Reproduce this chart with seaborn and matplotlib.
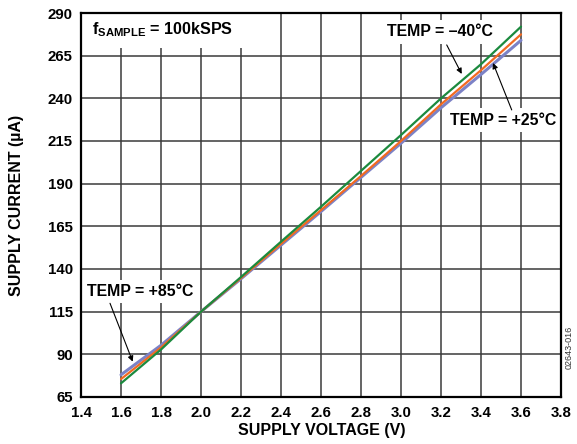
import numpy as np
import pandas as pd
import seaborn as sns
import matplotlib.pyplot as plt

voltage = [1.6, 1.8, 2.0, 2.2, 2.4, 2.6, 2.8, 3.0, 3.2, 3.4, 3.6]
current_m40 = [73.0, 92.8, 115.0, 135.3, 156.0, 176.5, 197.5, 218.5, 240.0, 260.0, 282.0]
current_p25 = [75.5, 94.0, 115.0, 134.7, 154.7, 174.5, 194.5, 215.0, 236.5, 256.5, 277.5]
current_p85 = [78.0, 95.3, 115.0, 134.3, 154.0, 173.7, 193.7, 213.7, 234.5, 254.0, 274.0]

series = {"TEMP = -40°C": current_m40, "TEMP = +25°C": current_p25, "TEMP = +85°C": current_p85}
colors = {"TEMP = -40°C": "#1b8a3e", "TEMP = +25°C": "#f26a21", "TEMP = +85°C": "#7c82c6"}
widths = {"TEMP = -40°C": 1.6, "TEMP = +25°C": 1.6, "TEMP = +85°C": 2.2}

x_ticks = [1.4, 1.6, 1.8, 2.0, 2.2, 2.4, 2.6, 2.8, 3.0, 3.2, 3.4, 3.6, 3.8]
y_ticks = [65, 90, 115, 140, 165, 190, 215, 240, 265, 290]

rows = []
for name, vals in series.items():
    for v, c in zip(voltage, vals):
        rows.append({"voltage": v, "current": c, "temp": name})
df = pd.DataFrame(rows)

sns.set_style("white")
plt.rcParams['font.family'] = ['Liberation Sans', 'DejaVu Sans']
plt.rcParams['mathtext.fontset'] = 'custom'
plt.rcParams['mathtext.bf'] = 'Liberation Sans:bold'
plt.rcParams['mathtext.rm'] = 'Liberation Sans'
for key in ['text.color', 'axes.labelcolor', 'xtick.color', 'ytick.color']:
    plt.rcParams[key] = 'black'

fig = plt.figure(figsize=(5.77, 4.44), dpi=100)
ax = fig.add_axes([0.1404, 0.1059, 0.8319, 0.8648])

# draw p85 first so others sit on top
for name in ["TEMP = +85°C", "TEMP = +25°C", "TEMP = -40°C"]:
    sub = df[df["temp"] == name]
    sns.lineplot(data=sub, x="voltage", y="current", color=colors[name],
                 linewidth=widths[name], ax=ax, zorder=3, legend=False)

ax.set_xlim(1.4, 3.8)
ax.set_ylim(65, 290)
ax.set_xticks(x_ticks)
ax.set_yticks(y_ticks)
ax.set_xticklabels([f"{t:.1f}" for t in x_ticks], fontsize=10.8, fontweight='bold')
ax.set_yticklabels([str(t) for t in y_ticks], fontsize=10.8, fontweight='bold')
ax.tick_params(axis='x', length=0, pad=6.5)
ax.tick_params(axis='y', length=0, pad=6)
ax.grid(True, color='#3a3a3a', linewidth=1.1)
ax.set_axisbelow(True)
for s in ax.spines.values():
    s.set_color('black')
    s.set_linewidth(1.6)

ax.set_xlabel("SUPPLY VOLTAGE (V)", fontsize=11.5, fontweight='bold')
ax.set_ylabel("SUPPLY CURRENT (µA)", fontsize=11.5, fontweight='bold')
ax.xaxis.set_label_coords(0.501, -0.068)
ax.yaxis.set_label_coords(-0.118, 0.5)

box = dict(facecolor='white', edgecolor='none', pad=3)
ax.text(1.4535, 280.5, r"f$_{\mathbf{SAMPLE}}$ = 100kSPS", fontsize=11.6, fontweight='bold',
        ha='left', va='center', zorder=2.2,
        bbox=dict(facecolor='white', edgecolor='none', boxstyle='square,pad=0.6'))
ax.text(2.93, 278.9, "TEMP = \u201340°C", fontsize=11.4, fontweight='bold',
        ha='left', va='center', zorder=2.2, bbox=box)
ax.text(3.245, 227.3, "TEMP = +25°C", fontsize=11.4, fontweight='bold',
        ha='left', va='center', zorder=2.2, bbox=box)
ax.text(1.4285, 126.7, "TEMP = +85°C", fontsize=11.4, fontweight='bold',
        ha='left', va='center', zorder=2.2, bbox=box)

arrow = dict(arrowstyle='-|>', color='black', lw=0.8, mutation_scale=8, shrinkA=0, shrinkB=0)
ax.annotate("", xy=(3.3035, 254.3), xytext=(3.2285, 271.3), arrowprops=arrow, zorder=5)
ax.annotate("", xy=(3.46, 260.7), xytext=(3.5535, 233.2), arrowprops=arrow, zorder=5)
ax.annotate("", xy=(1.6585, 85.7), xytext=(1.545, 119.9), arrowprops=arrow, zorder=5)

fig.text(0.986, 0.2185, "02643-016", fontsize=6.5, rotation=90, ha='center', va='center', color='#333333')

fig.savefig("out.png", dpi=100)
